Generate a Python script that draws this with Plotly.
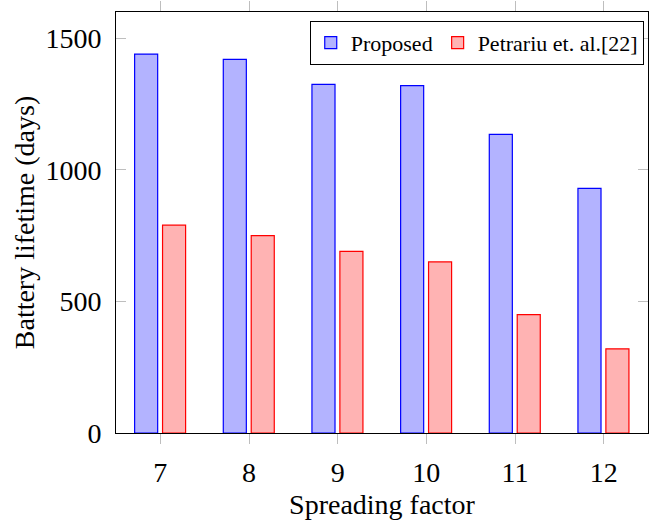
import plotly.graph_objects as go

spreading_factor = [7, 8, 9, 10, 11, 12]
proposed = [1440, 1420, 1325, 1320, 1135, 930]
petrariu = [790, 750, 690, 650, 450, 320]
y_ticks = [0, 500, 1000, 1500]

FONT = "Times New Roman, Liberation Serif, serif"

fig = go.Figure()
fig.add_trace(go.Bar(
    x=spreading_factor, y=proposed, name="Proposed",
    width=0.26, offset=-0.29,
    marker=dict(color="rgb(179,179,255)", line=dict(color="blue", width=1.2)),
))
fig.add_trace(go.Bar(
    x=spreading_factor, y=petrariu, name="Petrariu et. al.[22]",
    width=0.26, offset=0.025,
    marker=dict(color="rgb(255,179,179)", line=dict(color="red", width=1.2)),
))

fig.update_layout(
    width=652, height=520,
    margin=dict(l=116, r=4, t=12, b=87),
    paper_bgcolor="white", plot_bgcolor="white",
    font=dict(family=FONT, size=28, color="black"),
    barmode="overlay",
    showlegend=True,
    legend=dict(
        x=0.992, y=0.979, xanchor="right", yanchor="top",
        orientation="h",
        bgcolor="white", bordercolor="black", borderwidth=1,
        font=dict(family=FONT, size=22),
        itemwidth=30, tracegroupgap=0,
    ),
    xaxis=dict(
        range=[6.5, 12.5],
        tickvals=spreading_factor,
        ticktext=[str(v) for v in spreading_factor],
        ticks="outside", ticklen=10, tickwidth=1, tickcolor="rgb(190,190,190)",
        showline=True, linecolor="black", linewidth=1, mirror="ticks",
        showgrid=False, zeroline=False, automargin=False,
        ticklabelstandoff=4,
        title=dict(text="Spreading factor", standoff=9, font=dict(size=28)),
        tickfont=dict(size=28),
    ),
    yaxis=dict(
        range=[0, 1600],
        tickvals=y_ticks,
        ticks="inside", ticklen=10, tickwidth=1, tickcolor="rgb(190,190,190)",
        showline=True, linecolor="black", linewidth=1, mirror="ticks",
        showgrid=False, zeroline=False, automargin=False,
        ticklabelstandoff=8,
        title=dict(text="Battery lifetime (days)", standoff=2, font=dict(size=28)),
        tickfont=dict(size=28),
    ),
)

fig.write_html(
    "out.html",
    config={"displayModeBar": False},
    post_script="document.body.style.margin='0';document.body.style.overflow='hidden';",
)
